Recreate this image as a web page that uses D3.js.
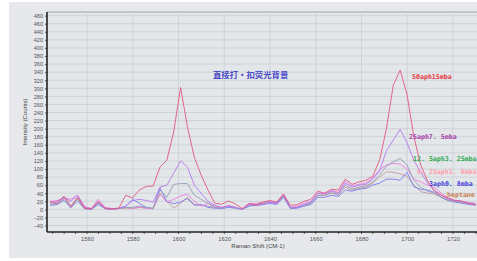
<!DOCTYPE html>
<html><head><meta charset="utf-8">
<script src="https://cdn.jsdelivr.net/npm/d3@7.9.0/dist/d3.min.js"></script>
<style>body{margin:0;background:#fff}svg{display:block}</style>
</head><body><svg width="477" height="261"></svg>
<script>
const shift=[1543.9,1546.9,1549.9,1552.9,1555.9,1558.9,1561.9,1564.9,1567.9,1570.9,1573.9,1576.9,1579.9,1582.9,1585.9,1588.9,1591.9,1594.9,1597.9,1600.9,1603.9,1606.9,1609.9,1612.9,1615.9,1618.9,1621.9,1624.9,1627.9,1630.9,1633.9,1636.9,1639.9,1642.9,1645.9,1648.9,1651.9,1654.9,1657.9,1660.9,1663.9,1666.9,1669.9,1672.9,1675.9,1678.9,1681.9,1684.9,1687.9,1690.9,1693.9,1696.9,1699.9,1702.9,1705.9,1708.9,1711.9,1714.9,1717.9,1720.9,1723.9,1726.9,1729.9];
const s50=[20,15,33,8,30,3,2,20,3,2,3,35,28,48,57,58,105,122,192,302,205,129,85,48,15,13,21,13,2,15,10,18,22,18,38,10,12,20,25,45,40,50,48,75,62,68,72,82,122,200,308,345,285,180,110,70,45,35,28,22,20,15,12];
const s25=[15,20,30,20,35,5,0,18,2,0,3,8,22,25,22,18,55,60,90,120,105,60,40,20,10,5,8,5,0,12,10,12,18,15,35,5,5,12,18,40,38,45,40,65,55,60,62,75,95,145,172,198,165,122,92,65,48,35,25,22,20,15,12];
const s12=[12,15,25,8,25,2,0,15,3,0,2,5,5,8,5,3,48,30,62,64,64,35,25,15,5,3,8,3,0,10,12,15,18,15,35,3,5,10,15,35,35,42,35,60,50,55,58,68,85,107,118,126,110,72,55,45,40,30,22,20,18,15,12];
const s6=[20,22,28,25,35,8,2,25,5,2,2,5,3,5,3,2,38,18,25,33,38,20,8,15,8,5,10,5,0,15,15,18,20,18,38,5,8,15,20,40,40,48,42,70,58,62,65,78,98,110,114,112,100,75,68,60,55,40,28,22,20,17,15];
const s3=[10,12,22,5,20,2,0,12,2,0,3,8,25,15,5,2,53,20,14,18,27,10,12,5,3,2,5,3,0,8,10,12,15,12,30,2,3,8,12,30,30,35,32,48,45,50,52,60,65,75,75,72,92,56,50,48,42,30,22,18,15,12,10];
const hept=[18,12,30,3,28,3,0,18,2,0,2,3,2,5,3,2,40,20,3,15,30,12,10,8,5,3,8,5,0,12,12,15,18,15,32,3,5,10,15,35,35,40,38,55,48,52,55,65,80,93,92,88,82,60,44,40,38,30,22,20,18,15,12];
const names=['50aph15mba','25aph7. 5mba','12. 5aph3. 25mba','6. 25aph1. 6mba','3aph0. 8mba','heptane'];
const xTicks=[1560,1580,1600,1620,1640,1660,1680,1700,1720];
const yTicks=[-40,-20,0,20,40,60,80,100,120,140,160,180,200,220,240,260,280,300,320,340,360,380,400,420,440,460,480];

const series=[s50,s25,s12,s6,s3,hept];
const lineCol=['#e0587e','#b678ee','#94a0b4','#ea7ee0','#7c7cf0','#c49a9a'];
const labCol=['#e8323c','#a43aa8','#2aa84a','#ff9caa','#3c3cd8','#c87a48'];
const labPos=[[412,79],[409,139],[413,161],[417,173.5],[429,185.5],[447,196.5]];

const svg=d3.select('svg');
const L=47,T=12,R=477,B=232;
const x=d3.scaleLinear().domain([1542.5,1730.5]).range([L,R]);
const y=d3.scaleLinear().domain([-56,489]).range([B,T]);

svg.append('rect').attr('x',9).attr('y',2).attr('width',470).attr('height',256).attr('fill','#e6e8eb');
svg.append('rect').attr('x',L).attr('y',T).attr('width',R-L+5).attr('height',B-T).attr('fill','#e4e7ea');
svg.append('line').attr('x1',L).attr('x2',R+5).attr('y1',T).attr('y2',T).attr('stroke','#b4b8bc').attr('stroke-width',1.5);

const g=svg.append('g');
g.selectAll('.hg').data(yTicks).enter().append('line').attr('x1',L).attr('x2',R).attr('y1',d=>y(d)).attr('y2',d=>y(d)).attr('stroke','#cfd3d8').attr('stroke-width',1);
g.selectAll('.vg').data(xTicks).enter().append('line').attr('y1',T).attr('y2',B).attr('x1',d=>x(d)).attr('x2',d=>x(d)).attr('stroke','#cfd3d8').attr('stroke-width',1);

svg.append('clipPath').attr('id','c').append('rect').attr('x',L).attr('y',T).attr('width',R-L).attr('height',B-T);
const line=d3.line().x((d,i)=>x(shift[i])).y(d=>y(d));
const lg=svg.append('g').attr('clip-path','url(#c)');
series.slice().reverse().forEach((s,k)=>{const i=series.length-1-k;
 lg.append('path').attr('d',line(s)).attr('fill','none').attr('stroke',lineCol[i]).attr('stroke-width',1).attr('stroke-opacity',0.9);});

const ya=svg.append('g').attr('transform',`translate(${L},0)`).call(d3.axisLeft(y).tickValues(yTicks).tickSize(2).tickPadding(2));
ya.select('.domain').remove();
ya.selectAll('text').attr('font-family','Liberation Sans, Arial').attr('font-size',5.6).attr('fill','#555');
ya.selectAll('line').attr('stroke','#666');
const xa=svg.append('g').attr('transform',`translate(0,${B})`).call(d3.axisBottom(x).tickValues(xTicks).tickFormat(d3.format('d')).tickSize(0).tickPadding(5));
xa.select('.domain').remove();
xa.selectAll('text').attr('font-family','Liberation Sans, Arial').attr('font-size',5.8).attr('fill','#555');
svg.append('g').selectAll('line').data(x.ticks(38)).enter().append('line')
 .attr('x1',d=>x(d)).attr('x2',d=>x(d)).attr('y1',B).attr('y2',B+2).attr('stroke','#333').attr('stroke-width',0.8);
svg.append('line').attr('x1',L).attr('x2',L).attr('y1',T).attr('y2',B).attr('stroke','#222').attr('stroke-width',1.6);
svg.append('line').attr('x1',L).attr('x2',R+5).attr('y1',B).attr('y2',B).attr('stroke','#222').attr('stroke-width',1.6);

svg.append('text').attr('x',258).attr('y',248).attr('text-anchor','middle').attr('font-family','Liberation Sans, Arial').attr('font-size',6).attr('fill','#444').text('Raman Shift (CM-1)');
svg.append('text').attr('transform','translate(27,122) rotate(-90)').attr('text-anchor','middle').attr('font-family','Liberation Sans, Arial').attr('font-size',6).attr('fill','#444').text('Intensity (Counts)');

svg.append('text').attr('x',213).attr('y',77.5).attr('font-family','Noto Sans CJK SC').attr('font-weight','bold').attr('font-size',8.4).attr('fill','#4a4ac8').text('直接打・扣荧光背景');
names.forEach((n,i)=>svg.append('text').attr('x',labPos[i][0]).attr('y',labPos[i][1]).attr('font-family','DejaVu Sans Mono').attr('font-weight','bold').attr('font-size',6.6).attr('fill',labCol[i]).text(n));
</script></body></html>
